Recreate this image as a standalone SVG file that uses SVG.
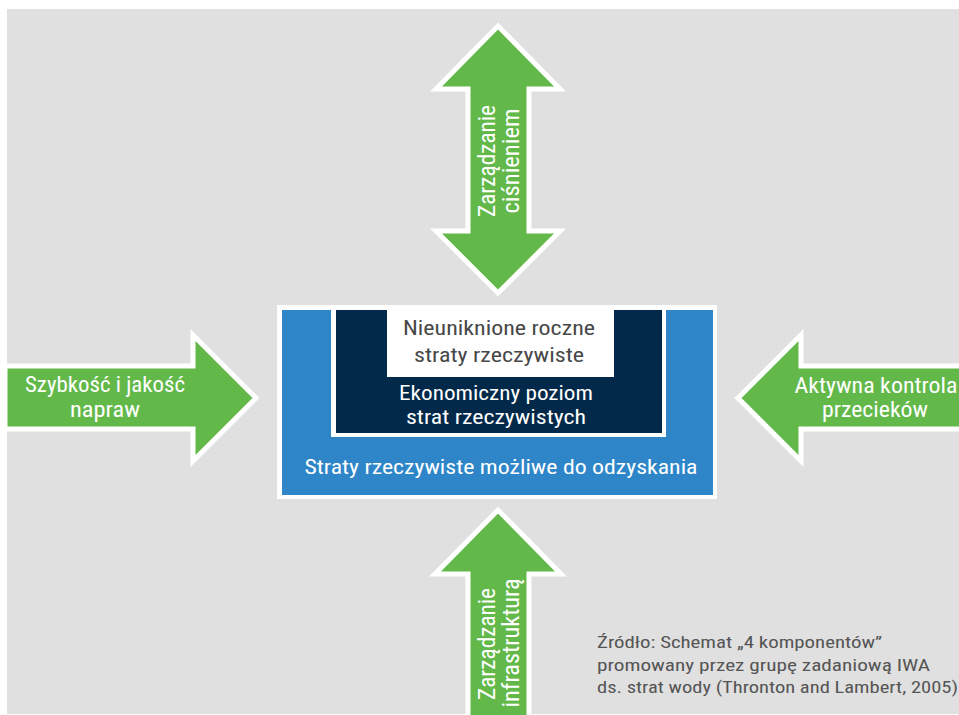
<svg xmlns="http://www.w3.org/2000/svg" width="959" height="715" viewBox="0 0 959 715">
<style>
.bg{fill:#e0e0e0}
.arrow{fill:#62b94a;stroke:#ffffff;stroke-width:5;stroke-linejoin:miter}
.t{font-family:"Liberation Sans Narrow","Roboto Condensed",Roboto,"Liberation Sans",Arial,sans-serif}
.w{fill:#ffffff}
.g{fill:#474747}
.src{fill:#555555;font-size:16px}
</style>
<rect class="bg" x="7" y="9" width="952" height="705"/>
<g id="arrow-top">
<polygon class="arrow" points="498,26 560,89 529,89 529,231 560,231 498,293 436,231 468,231 468,89 436,89"/>
<text class="t w" font-size="24.5" transform="rotate(-90 495 161)" x="495" y="161" text-anchor="middle" textLength="112" lengthAdjust="spacingAndGlyphs">Zarządzanie</text>
<text class="t w" font-size="24.5" transform="rotate(-90 519 161)" x="519" y="161" text-anchor="middle" textLength="105" lengthAdjust="spacingAndGlyphs">ciśnieniem</text>
</g>
<g id="arrow-left">
<polygon class="arrow" points="5,366 193,366 193,335 256,398 193,461 193,429 5,429"/>
<text class="t w" font-size="22" x="105" y="392" text-anchor="middle" textLength="160" lengthAdjust="spacingAndGlyphs">Szybkość i jakość</text>
<text class="t w" font-size="22" x="105" y="417" text-anchor="middle" textLength="70" lengthAdjust="spacingAndGlyphs">napraw</text>
</g>
<g id="arrow-right">
<polygon class="arrow" points="738,398 801,335 801,366 962,366 962,429 801,429 801,461"/>
<text class="t w" font-size="22" x="876" y="393" text-anchor="middle" textLength="163" lengthAdjust="spacingAndGlyphs">Aktywna kontrola</text>
<text class="t w" font-size="22" x="875" y="417" text-anchor="middle" textLength="106" lengthAdjust="spacingAndGlyphs">przecieków</text>
</g>
<g id="arrow-bottom">
<polygon class="arrow" points="498,510 561,574 529,574 529,718 468,718 468,574 435,574"/>
<text class="t w" font-size="24.5" transform="rotate(-90 495 644)" x="495" y="644" text-anchor="middle" textLength="112" lengthAdjust="spacingAndGlyphs">Zarządzanie</text>
<text class="t w" font-size="24.5" transform="rotate(-90 519 643)" x="519" y="643" text-anchor="middle" textLength="129" lengthAdjust="spacingAndGlyphs">infrastrukturą</text>
</g>
<g id="box-outer">
<rect x="277" y="305" width="440" height="194" fill="#ffffff"/>
<rect x="282" y="310" width="431" height="185" fill="#2e86c8"/>
<text class="t w" font-size="21" x="501" y="474" text-anchor="middle" textLength="393" lengthAdjust="spacingAndGlyphs">Straty rzeczywiste możliwe do odzyskania</text>
</g>
<g id="box-middle">
<rect x="331" y="310" width="335" height="127" fill="#ffffff"/>
<rect x="336" y="310" width="326" height="123" fill="#03294a"/>
<text class="t w" font-size="21" x="496" y="400" text-anchor="middle" textLength="194" lengthAdjust="spacingAndGlyphs">Ekonomiczny poziom</text>
<text class="t w" font-size="21" x="496" y="424" text-anchor="middle" textLength="180" lengthAdjust="spacingAndGlyphs">strat rzeczywistych</text>
</g>
<g id="box-inner">
<rect x="387" y="310" width="227" height="67" fill="#ffffff"/>
<text class="t g" font-size="21" x="499" y="335" text-anchor="middle" textLength="192" lengthAdjust="spacingAndGlyphs">Nieuniknione roczne</text>
<text class="t g" font-size="21" x="499" y="362" text-anchor="middle" textLength="170" lengthAdjust="spacingAndGlyphs">straty rzeczywiste</text>
</g>
<g id="source">
<text class="t src" x="597" y="648" textLength="285" lengthAdjust="spacingAndGlyphs">Źródło: Schemat „4 komponentów”</text>
<text class="t src" x="597" y="671" textLength="333" lengthAdjust="spacingAndGlyphs">promowany przez grupę zadaniową IWA</text>
<text class="t src" x="597" y="693" textLength="361" lengthAdjust="spacingAndGlyphs">ds. strat wody (Thronton and Lambert, 2005)</text>
</g>
</svg>
